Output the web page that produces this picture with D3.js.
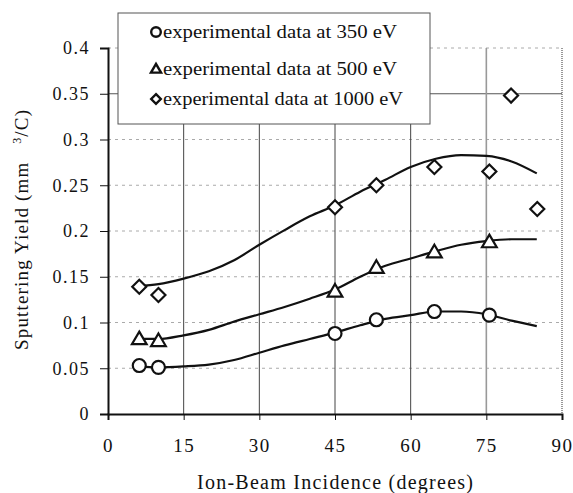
<!DOCTYPE html>
<html>
<head>
<meta charset="utf-8">
<script src="https://cdn.jsdelivr.net/npm/d3@7"></script>
<style>
  body { margin: 0; background: #fff; }
  svg { display: block; }
</style>
</head>
<body>
<svg class="main" width="573" height="493"></svg>
<script>
// model curves (sampled angles, degrees)
var modelAngles = [6, 10, 15, 20, 25, 30, 35, 40, 45, 50, 55, 60, 65, 70, 75, 80, 85];
var model350 = [0.052, 0.051, 0.052, 0.054, 0.059, 0.067, 0.075, 0.082, 0.089, 0.097, 0.104, 0.108, 0.112, 0.112, 0.109, 0.102, 0.096];
var model500 = [0.082, 0.082, 0.086, 0.092, 0.101, 0.109, 0.117, 0.126, 0.136, 0.150, 0.162, 0.170, 0.178, 0.185, 0.189, 0.191, 0.191];
var model1000 = [0.140, 0.142, 0.148, 0.156, 0.168, 0.185, 0.201, 0.216, 0.228, 0.243, 0.256, 0.270, 0.279, 0.283, 0.282, 0.276, 0.263];

// experimental points
var exp350Angles = [6.2, 10, 45, 53.2, 64.7, 75.6];
var exp350 = [0.053, 0.051, 0.088, 0.103, 0.112, 0.108];
var exp500Angles = [6.2, 10, 45, 53.2, 64.7, 75.6];
var exp500 = [0.082, 0.080, 0.134, 0.160, 0.177, 0.188];
var exp1000Angles = [6.2, 10, 45, 53.2, 64.7, 75.6, 79.9, 85.1];
var exp1000 = [0.139, 0.130, 0.226, 0.250, 0.270, 0.265, 0.348, 0.224];

var xTicks = [0, 15, 30, 45, 60, 75, 90];
var yTicks = [0, 0.05, 0.1, 0.15, 0.2, 0.25, 0.3, 0.35, 0.4];
var yTickLabels = ["0", "0.05", "0.1", "0.15", "0.2", "0.25", "0.3", "0.35", "0.4"];
var legendLabels = ["experimental data at 350 eV", "experimental data at 500 eV", "experimental data at 1000 eV"];
var legendShapes = ["circle", "triangle", "diamond"];

var svg = d3.select(".main"),
    plot = { left: 108, right: 562, top: 48, bottom: 414 },
    serif = "Liberation Serif";

var x = d3.scaleLinear().domain([0, 90]).range([plot.left, plot.right]);
var y = d3.scaleLinear().domain([0, 0.4]).range([plot.bottom, plot.top]);

/**
 * Grid
 */
var grid = svg.append("g");

grid.selectAll(".hgrid")
    .data(yTicks.filter(function(d) { return d > 0; }))
    .enter()
    .append("line")
    .attr("x1", plot.left)
    .attr("x2", plot.right)
    .attr("y1", function(d) { return y(d); })
    .attr("y2", function(d) { return y(d); })
    .attr("stroke", function(d) { return d === 0.35 ? "#555" : "#aaa"; })
    .attr("stroke-width", 1)
    .attr("stroke-dasharray", function(d) { return d === 0.35 ? null : "3,4"; });

grid.selectAll(".vgrid")
    .data(xTicks.filter(function(d) { return d > 0 && d < 90; }))
    .enter()
    .append("line")
    .attr("x1", function(d) { return x(d); })
    .attr("x2", function(d) { return x(d); })
    .attr("y1", plot.top)
    .attr("y2", plot.bottom)
    .attr("stroke", function(d) { return d === 75 ? "#999" : "#444"; })
    .attr("stroke-width", function(d) { return d === 75 ? 1.6 : 1; });

// right border, dotted
grid.append("line")
    .attr("x1", plot.right).attr("x2", plot.right)
    .attr("y1", plot.top).attr("y2", plot.bottom)
    .attr("stroke", "#777")
    .attr("stroke-width", 1.5)
    .attr("stroke-dasharray", "1,1");

/**
 * Axes
 */
var yAxis = svg.append("g")
    .attr("transform", "translate(" + plot.left + ",0)")
    .call(d3.axisLeft(y).tickValues(yTicks).tickSize(8).tickPadding(10)
        .tickFormat(function(d, i) { return yTickLabels[i]; }));

var xAxis = svg.append("g")
    .attr("transform", "translate(0," + plot.bottom + ")")
    .call(d3.axisBottom(x).tickValues(xTicks).tickSize(6).tickPadding(19)
        .tickFormat(function(d) { return d; }));

[yAxis, xAxis].forEach(function(ax) {
    ax.attr("font-family", serif);
    ax.select(".domain").attr("stroke", "#111").attr("stroke-width", 2);
    ax.selectAll(".tick line").attr("stroke", "#111").attr("stroke-width", 1);
    ax.selectAll("text")
        .attr("fill", "#111")
        .attr("letter-spacing", "1.5px");
});
yAxis.attr("font-size", 18);
xAxis.attr("font-size", 19);

/**
 * Model curves
 */
var line = d3.line()
    .x(function(d) { return x(d[0]); })
    .y(function(d) { return y(d[1]); })
    .curve(d3.curveMonotoneX);

[model350, model500, model1000].forEach(function(series) {
    svg.append("path")
        .datum(modelAngles.map(function(a, i) { return [a, series[i]]; }))
        .attr("fill", "none")
        .attr("stroke", "#111")
        .attr("stroke-width", 2.2)
        .attr("d", line);
});

/**
 * Markers
 */
function markerPath(shape, r) {
    if (shape === "triangle") {
        return "M0," + (-r * 1.05) + " L" + (r * 1.05) + "," + (r * 0.75) + " L" + (-r * 1.05) + "," + (r * 0.75) + " Z";
    }
    if (shape === "diamond") {
        return "M0," + (-r) + " L" + r + ",0 L0," + r + " L" + (-r) + ",0 Z";
    }
    return "M" + r + ",0 A" + r + "," + r + " 0 1,1 " + (-r) + ",0 A" + r + "," + r + " 0 1,1 " + r + ",0 Z";
}

function drawPoints(angles, values, shape, r) {
    svg.append("g").selectAll("path")
        .data(angles.map(function(a, i) { return [a, values[i]]; }))
        .enter()
        .append("path")
        .attr("transform", function(d) { return "translate(" + x(d[0]) + "," + y(d[1]) + ")"; })
        .attr("d", markerPath(shape, r))
        .attr("fill", "#fff")
        .attr("stroke", "#111")
        .attr("stroke-width", 2.2);
}

drawPoints(exp350Angles, exp350, "circle", 6.5);
drawPoints(exp500Angles, exp500, "triangle", 7);
drawPoints(exp1000Angles, exp1000, "diamond", 7);

/**
 * Legend
 */
var legend = svg.append("g");

legend.append("rect")
    .attr("x", 118).attr("y", 13)
    .attr("width", 312).attr("height", 111)
    .attr("fill", "#fff")
    .attr("stroke", "#555")
    .attr("stroke-width", 1);

var legendRows = [32, 69, 99];

legendLabels.forEach(function(label, i) {
    legend.append("path")
        .attr("transform", "translate(156," + legendRows[i] + ")")
        .attr("d", markerPath(legendShapes[i], 4.8))
        .attr("fill", "#fff")
        .attr("stroke", "#111")
        .attr("stroke-width", 2.4);

    legend.append("text")
        .attr("x", 163)
        .attr("y", legendRows[i] + 6)
        .attr("textLength", i === 2 ? 240 : 234)
        .attr("lengthAdjust", "spacingAndGlyphs")
        .attr("font-family", serif)
        .attr("font-size", 19)
        .attr("fill", "#111")
        .text(label);
});

/**
 * Axis titles
 */
svg.append("text")
    .attr("x", 335)
    .attr("y", 489)
    .attr("text-anchor", "middle")
    .attr("textLength", 276)
    .attr("lengthAdjust", "spacing")
    .attr("font-family", serif)
    .attr("font-size", 20)
    .attr("fill", "#111")
    .text("Ion-Beam Incidence (degrees)");

var yTitle = svg.append("text")
    .attr("transform", "translate(28,230) rotate(-90)")
    .attr("text-anchor", "middle")
    .attr("textLength", 240)
    .attr("lengthAdjust", "spacing")
    .attr("font-family", serif)
    .attr("font-size", 19)
    .attr("fill", "#111");

yTitle.append("tspan").text("Sputtering Yield (mm\u00a0\u00a0\u00a0");
yTitle.append("tspan").attr("dy", -7).attr("font-size", 12).text("3");
yTitle.append("tspan").attr("dy", 7).text("/C)");
</script>
</body>
</html>
